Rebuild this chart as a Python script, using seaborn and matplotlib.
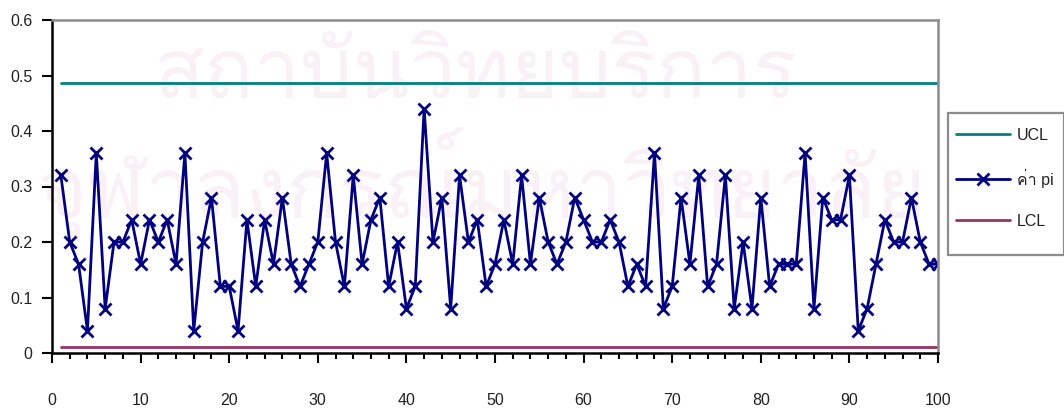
import matplotlib
matplotlib.use("Agg")
import matplotlib.pyplot as plt
from matplotlib import font_manager
from matplotlib.patches import Rectangle
from matplotlib.ticker import MultipleLocator, FixedLocator
import seaborn as sns
import pandas as pd

# ---- data -------------------------------------------------------------
sample_no = list(range(1, 101))
p_values = [
    0.32, 0.20, 0.16, 0.04, 0.36, 0.08, 0.20, 0.20, 0.24, 0.16,
    0.24, 0.20, 0.24, 0.16, 0.36, 0.04, 0.20, 0.28, 0.12, 0.12,
    0.04, 0.24, 0.12, 0.24, 0.16, 0.28, 0.16, 0.12, 0.16, 0.20,
    0.36, 0.20, 0.12, 0.32, 0.16, 0.24, 0.28, 0.12, 0.20, 0.08,
    0.12, 0.44, 0.20, 0.28, 0.08, 0.32, 0.20, 0.24, 0.12, 0.16,
    0.24, 0.16, 0.32, 0.16, 0.28, 0.20, 0.16, 0.20, 0.28, 0.24,
    0.20, 0.20, 0.24, 0.20, 0.12, 0.16, 0.12, 0.36, 0.08, 0.12,
    0.28, 0.16, 0.32, 0.12, 0.16, 0.32, 0.08, 0.20, 0.08, 0.28,
    0.12, 0.16, 0.16, 0.16, 0.36, 0.08, 0.28, 0.24, 0.24, 0.32,
    0.04, 0.08, 0.16, 0.24, 0.20, 0.20, 0.28, 0.20, 0.16, 0.16,
]
ucl_value = 0.486
lcl_value = 0.010
series_names = ["UCL", "ค่า pi", "LCL"]
x_tick_labels = ["0", "10", "20", "30", "40", "50", "60", "70", "80", "90", "100"]
y_tick_labels = ["0", "0.1", "0.2", "0.3", "0.4", "0.5", "0.6"]
watermark_lines = ["สถาบันวิทยบริการ", "จุฬาลงกรณ์มหาวิทยาลัย"]

df = pd.DataFrame({
    "sample": sample_no,
    "p": p_values,
    "UCL": [ucl_value] * len(sample_no),
    "LCL": [lcl_value] * len(sample_no),
})


def find_thai_family():
    """Return the name of an installed font family that covers Thai."""
    try:
        from fontTools.ttLib import TTFont
    except Exception:
        return None
    for entry in font_manager.fontManager.ttflist:
        try:
            font = TTFont(entry.fname, fontNumber=0, lazy=True)
            cmap = font.getBestCmap()
            if cmap and 0x0E04 in cmap and 0x0E48 in cmap:
                return entry.name
        except Exception:
            continue
    return None


sns.set_style("ticks")
thai = find_thai_family()
families = ["Liberation Sans", "DejaVu Sans"]
if thai:
    families = ["Liberation Sans", thai, "DejaVu Sans"]
plt.rcParams["font.family"] = families

W, H = 1064, 412
fig = plt.figure(figsize=(W / 100, H / 100), dpi=100, facecolor="white")

# faint background lettering: (left px, baseline px, width px)
wm_color = "#faf1f6"
wm_specs = [(153, 98, 644), (37, 217, 889)]
wm_family = [thai] if thai else ["DejaVu Sans"]
renderer = fig.canvas.get_renderer()
for text, (left, base, target_w) in zip(watermark_lines, wm_specs):
    t = fig.text(left / W, 1 - base / H, text, ha="left", va="baseline",
                 fontsize=60, color=wm_color, family=wm_family, zorder=-5)
    w = t.get_window_extent(renderer).width
    if w > 0:
        t.set_fontsize(60 * target_w / w)

ax = fig.add_axes([52 / W, 59 / H, 886 / W, 333 / H])
ax.set_facecolor("none")

sns.lineplot(data=df, x="sample", y="UCL", ax=ax, color="#008080",
             linewidth=2, label=series_names[0])
sns.lineplot(data=df, x="sample", y="p", ax=ax, color="#000080",
             linewidth=2, marker="x", markersize=8.5, markeredgewidth=2,
             markeredgecolor="#000080", label=series_names[1])
sns.lineplot(data=df, x="sample", y="LCL", ax=ax, color="#993366",
             linewidth=2, label=series_names[2])

ax.set_xlim(0, 100)
ax.set_ylim(0, 0.6)
ax.set_xlabel("")
ax.set_ylabel("")

ax.xaxis.set_major_locator(FixedLocator(list(range(0, 101, 10))))
ax.xaxis.set_minor_locator(MultipleLocator(2))
ax.set_xticklabels(x_tick_labels)
ax.yaxis.set_major_locator(FixedLocator([0, 0.1, 0.2, 0.3, 0.4, 0.5, 0.6]))
ax.set_yticklabels(y_tick_labels)

ax.tick_params(axis="x", which="major", direction="out", length=7,
               width=1.5, color="black", pad=22, labelsize=11.5,
               labelcolor="#222222")
ax.tick_params(axis="x", which="minor", direction="out", length=4,
               width=1.5, color="black")
ax.tick_params(axis="y", which="major", direction="out", length=7,
               width=1.5, color="black", pad=7, labelsize=11.5,
               labelcolor="#222222")

for side in ("left", "bottom"):
    ax.spines[side].set_color("black")
    ax.spines[side].set_linewidth(1.8)
for side in ("top", "right"):
    ax.spines[side].set_visible(True)
    ax.spines[side].set_color("#8c8c8c")
    ax.spines[side].set_linewidth(1.8)

# legend: frame drawn as its own rectangle, entries placed inside it
handles, labels = ax.get_legend_handles_labels()
if ax.legend_:
    ax.legend_.remove()
fig.patches.append(Rectangle((948 / W, 1 - 255 / H), 116 / W, 142 / H,
                             transform=fig.transFigure, facecolor="white",
                             edgecolor="#8c8c8c", linewidth=1.6, zorder=1))
fig.legend(handles, labels, loc="upper left",
           bbox_to_anchor=(956 / W, 1 - 128 / H), frameon=False,
           borderpad=0, borderaxespad=0, handlelength=3.4,
           handletextpad=0.4, labelspacing=1.62, fontsize=11.5,
           labelcolor="#222222")

fig.savefig("out.png", dpi=100, facecolor="white")
